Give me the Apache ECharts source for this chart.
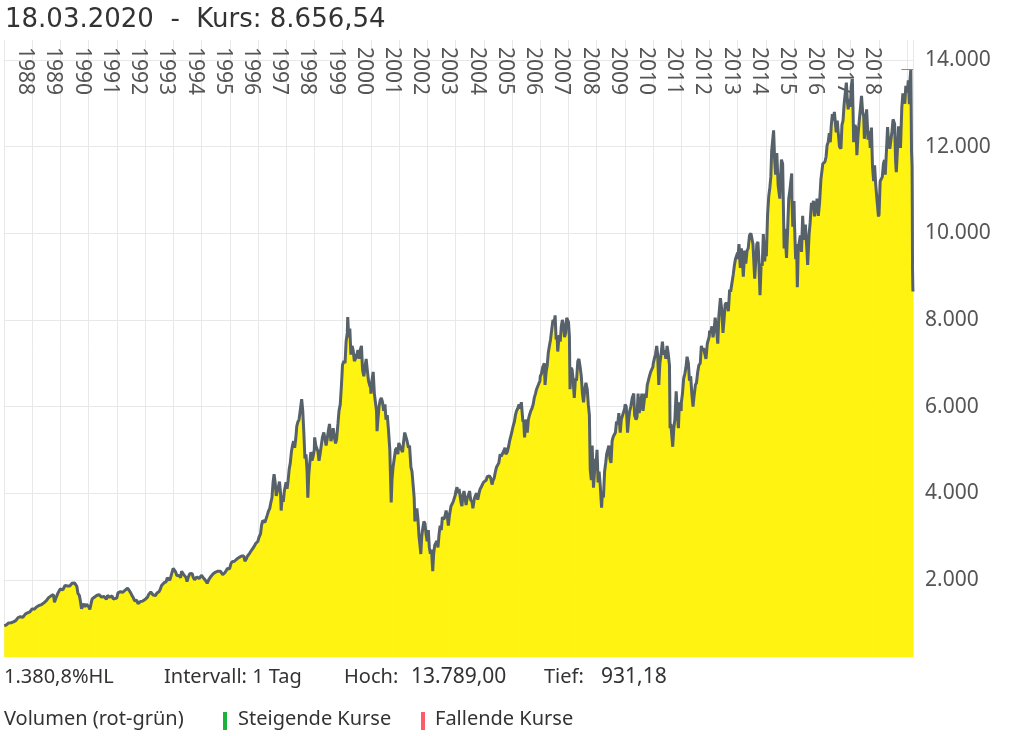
<!DOCTYPE html>
<html>
<head>
<meta charset="utf-8">
<script src="https://cdn.jsdelivr.net/npm/echarts@6/dist/echarts.min.js"></script>
<style>
html,body{margin:0;padding:0;background:#fff;}
#chart{width:1024px;height:736px;}
</style>
</head>
<body>
<div id="chart"></div>
<script>
// ---- data (DAX) ----
const TITLE_DATE = '18.03.2020';
const KURS = 8656.54;
const HIGH = 13789.00;
const LOW = 931.18;
const START_DATE = '1988-01-01';
const END_DATE = '2020-03-18';
const yearLabels = [1988,1989,1990,1991,1992,1993,1994,1995,1996,1997,1998,1999,2000,2001,2002,2003,2004,2005,2006,2007,2008,2009,2010,2011,2012,2013,2014,2015,2016,2017,2018];
const yTicks = [2000,4000,6000,8000,10000,12000,14000];
const kurs = [
['1988-01-04',940],['1988-01-19',931],['1988-02-01',960],['1988-02-15',985],['1988-03-01',1005],['1988-03-15',990],['1988-04-01',1010],['1988-04-15',1040],['1988-05-02',1030],['1988-05-16',1045],['1988-06-01',1060],['1988-06-15',1100],['1988-07-01',1130],['1988-07-15',1150],['1988-08-01',1150],['1988-08-15',1120],['1988-09-01',1135],['1988-09-15',1180],['1988-10-03',1210],['1988-10-17',1250],['1988-11-01',1240],['1988-11-15',1220],['1988-12-01',1260],['1988-12-30',1328],
['1989-01-16',1360],['1989-02-01',1330],['1989-02-15',1360],['1989-03-01',1380],['1989-03-15',1400],['1989-04-03',1410],['1989-04-17',1440],['1989-05-02',1430],['1989-05-16',1460],['1989-06-01',1470],['1989-06-15',1500],['1989-07-03',1520],['1989-07-17',1560],['1989-08-01',1590],['1989-08-15',1610],['1989-09-01',1630],['1989-09-15',1640],['1989-10-02',1660],['1989-10-16',1480],['1989-11-01',1570],['1989-11-15',1600],['1989-12-01',1700],['1989-12-15',1740],['1989-12-29',1790],
['1990-01-02',1800],['1990-01-15',1820],['1990-02-01',1770],['1990-02-15',1740],['1990-03-01',1870],['1990-03-15',1900],['1990-04-02',1860],['1990-04-17',1830],['1990-05-02',1860],['1990-05-15',1900],['1990-06-01',1920],['1990-06-15',1910],['1990-07-02',1930],['1990-07-20',1966],['1990-08-01',1850],['1990-08-15',1690],['1990-09-03',1640],['1990-09-17',1500],['1990-10-01',1335],['1990-10-15',1400],['1990-11-01',1450],['1990-11-15',1380],['1990-12-03',1440],['1990-12-28',1398],
['1991-01-02',1380],['1991-01-16',1320],['1991-02-01',1450],['1991-02-15',1560],['1991-03-01',1570],['1991-03-15',1600],['1991-04-02',1620],['1991-04-15',1640],['1991-05-02',1640],['1991-05-15',1660],['1991-06-03',1620],['1991-06-17',1600],['1991-07-01',1580],['1991-07-15',1620],['1991-08-01',1650],['1991-08-19',1550],['1991-09-02',1640],['1991-09-16',1610],['1991-10-01',1600],['1991-10-15',1620],['1991-11-01',1630],['1991-11-15',1560],['1991-12-02',1560],['1991-12-30',1578],
['1992-01-02',1600],['1992-01-15',1700],['1992-02-03',1710],['1992-02-17',1730],['1992-03-02',1720],['1992-03-16',1710],['1992-04-01',1720],['1992-04-15',1760],['1992-05-04',1790],['1992-05-18',1810],['1992-06-01',1790],['1992-06-15',1740],['1992-07-01',1690],['1992-07-15',1640],['1992-08-03',1580],['1992-08-17',1520],['1992-09-01',1510],['1992-09-15',1530],['1992-10-01',1450],['1992-10-15',1420],['1992-11-02',1500],['1992-11-16',1470],['1992-12-01',1510],['1992-12-30',1545],
['1993-01-04',1540],['1993-01-18',1580],['1993-02-01',1600],['1993-02-15',1660],['1993-03-01',1680],['1993-03-15',1720],['1993-04-01',1680],['1993-04-15',1650],['1993-05-03',1660],['1993-05-17',1640],['1993-06-01',1690],['1993-06-15',1680],['1993-07-01',1730],['1993-07-15',1780],['1993-08-02',1870],['1993-08-16',1880],['1993-09-01',1930],['1993-09-15',1920],['1993-10-01',1960],['1993-10-15',2050],['1993-11-01',2070],['1993-11-15',1990],['1993-12-01',2080],['1993-12-30',2267],
['1994-01-03',2250],['1994-01-17',2270],['1994-02-01',2180],['1994-02-15',2100],['1994-03-01',2110],['1994-03-15',2100],['1994-04-05',2050],['1994-04-18',2200],['1994-05-02',2180],['1994-05-16',2120],['1994-06-01',2090],['1994-06-15',2050],['1994-06-27',1960],['1994-07-15',2070],['1994-08-01',2140],['1994-08-15',2170],['1994-09-01',2150],['1994-09-15',2060],['1994-10-03',2000],['1994-10-17',2040],['1994-11-01',2070],['1994-11-15',2080],['1994-12-01',2030],['1994-12-30',2107],
['1995-01-02',2100],['1995-01-16',2080],['1995-02-01',2030],['1995-02-15',2040],['1995-03-01',1970],['1995-03-15',1920],['1995-04-03',2000],['1995-04-18',2030],['1995-05-02',2080],['1995-05-15',2110],['1995-06-01',2140],['1995-06-15',2150],['1995-07-03',2180],['1995-07-17',2220],['1995-08-01',2200],['1995-08-15',2160],['1995-09-01',2200],['1995-09-15',2190],['1995-10-02',2120],['1995-10-16',2140],['1995-11-01',2170],['1995-11-15',2210],['1995-12-01',2260],['1995-12-29',2254],
['1996-01-02',2280],['1996-01-15',2370],['1996-02-01',2420],['1996-02-15',2440],['1996-03-01',2430],['1996-03-15',2470],['1996-04-01',2480],['1996-04-15',2500],['1996-05-02',2520],['1996-05-15',2560],['1996-06-03',2550],['1996-06-17',2570],['1996-07-01',2550],['1996-07-15',2430],['1996-08-01',2480],['1996-08-15',2540],['1996-09-02',2570],['1996-09-16',2620],['1996-10-01',2650],['1996-10-15',2700],['1996-11-01',2720],['1996-11-15',2780],['1996-12-02',2840],['1996-12-30',2889],
['1997-01-02',2900],['1997-01-15',2990],['1997-02-03',3060],['1997-02-17',3270],['1997-03-03',3370],['1997-03-17',3380],['1997-04-01',3330],['1997-04-15',3300],['1997-05-02',3500],['1997-05-15',3580],['1997-06-02',3650],['1997-06-16',3780],['1997-07-01',3900],['1997-07-15',4250],['1997-07-28',4438],['1997-08-11',4250],['1997-08-25',3940],['1997-09-08',4050],['1997-09-22',4150],['1997-10-06',4270],['1997-10-20',4000],['1997-10-28',3600],['1997-11-10',3950],['1997-11-24',3800],['1997-12-08',4050],['1997-12-30',4250],
['1998-01-12',4100],['1998-01-26',4300],['1998-02-09',4560],['1998-02-23',4700],['1998-03-09',4950],['1998-03-23',5100],['1998-04-06',5200],['1998-04-20',5050],['1998-05-04',5250],['1998-05-18',5550],['1998-06-02',5650],['1998-06-16',5700],['1998-07-01',5900],['1998-07-20',6171],['1998-08-03',5900],['1998-08-17',5400],['1998-08-31',4800],['1998-09-14',4900],['1998-09-28',4500],['1998-10-08',3896],['1998-10-19',4400],['1998-11-02',4700],['1998-11-16',4950],['1998-12-01',4750],['1998-12-15',4850],['1998-12-30',5002],
['1999-01-04',5290],['1999-01-18',5100],['1999-02-01',5100],['1999-02-15',4970],['1999-03-01',4750],['1999-03-15',4900],['1999-04-01',4900],['1999-04-15',5300],['1999-05-03',5400],['1999-05-17',5250],['1999-06-01',5100],['1999-06-15',5250],['1999-07-01',5450],['1999-07-15',5600],['1999-08-02',5200],['1999-08-16',5300],['1999-09-01',5500],['1999-09-15',5300],['1999-10-01',5150],['1999-10-15',5250],['1999-11-01',5600],['1999-11-15',5900],['1999-12-01',6050],['1999-12-15',6450],['1999-12-30',6958],
['2000-01-03',7000],['2000-01-17',7050],['2000-02-01',7000],['2000-02-15',7500],['2000-03-01',7700],['2000-03-07',8065],['2000-03-20',7600],['2000-04-03',7800],['2000-04-17',7200],['2000-05-02',7400],['2000-05-16',7300],['2000-06-01',7050],['2000-06-15',7100],['2000-07-03',7200],['2000-07-17',7300],['2000-08-01',7100],['2000-08-15',7300],['2000-09-01',7400],['2000-09-15',6850],['2000-10-02',6700],['2000-10-16',6900],['2000-11-01',7100],['2000-11-15',6850],['2000-12-01',6600],['2000-12-15',6500],['2000-12-29',6434],
['2001-01-02',6300],['2001-01-15',6600],['2001-01-31',6800],['2001-02-15',6300],['2001-03-01',6100],['2001-03-15',5900],['2001-03-22',5430],['2001-04-02',5700],['2001-04-17',6000],['2001-05-02',6150],['2001-05-16',6200],['2001-06-01',6100],['2001-06-15',5900],['2001-07-02',6050],['2001-07-16',5700],['2001-08-01',5800],['2001-08-15',5500],['2001-09-03',5000],['2001-09-21',3787],['2001-10-01',4300],['2001-10-15',4600],['2001-11-01',4600],['2001-11-15',5000],['2001-12-03',5050],['2001-12-17',4900],['2001-12-28',5160],
['2002-01-02',5200],['2002-01-15',5150],['2002-02-01',5000],['2002-02-15',4950],['2002-03-01',5200],['2002-03-15',5400],['2002-03-28',5400],['2002-04-15',5200],['2002-05-02',5050],['2002-05-16',5100],['2002-06-03',4600],['2002-06-17',4500],['2002-07-01',4200],['2002-07-15',3900],['2002-07-24',3350],['2002-08-05',3500],['2002-08-19',3650],['2002-09-02',3400],['2002-09-16',3000],['2002-09-30',2770],['2002-10-09',2597],['2002-10-21',3000],['2002-11-04',3200],['2002-11-18',3350],['2002-12-02',3300],['2002-12-16',3050],['2002-12-30',2893],
['2003-01-02',2950],['2003-01-14',3150],['2003-01-27',2750],['2003-02-10',2600],['2003-02-24',2700],['2003-03-12',2203],['2003-03-24',2600],['2003-04-07',2800],['2003-04-22',2800],['2003-05-05',2900],['2003-05-19',2750],['2003-06-02',3050],['2003-06-16',3250],['2003-07-01',3150],['2003-07-15',3450],['2003-08-01',3400],['2003-08-15',3450],['2003-09-01',3600],['2003-09-15',3500],['2003-09-30',3250],['2003-10-15',3500],['2003-11-03',3700],['2003-11-17',3700],['2003-12-01',3800],['2003-12-30',3965],
['2004-01-02',4020],['2004-01-20',4140],['2004-02-02',4000],['2004-02-16',4100],['2004-03-01',4100],['2004-03-11',3800],['2004-03-24',3700],['2004-04-05',3950],['2004-04-20',4050],['2004-05-03',3900],['2004-05-17',3730],['2004-06-01',3900],['2004-06-15',3950],['2004-07-01',4050],['2004-07-15',3850],['2004-08-02',3800],['2004-08-13',3650],['2004-09-01',3880],['2004-09-15',3950],['2004-10-01',4000],['2004-10-15',3850],['2004-11-01',4000],['2004-11-15',4100],['2004-12-01',4150],['2004-12-30',4256],
['2005-01-03',4290],['2005-01-17',4250],['2005-02-01',4300],['2005-02-15',4380],['2005-03-01',4380],['2005-03-15',4400],['2005-04-01',4350],['2005-04-18',4200],['2005-05-02',4300],['2005-05-16',4350],['2005-06-01',4500],['2005-06-15',4600],['2005-07-01',4600],['2005-07-15',4700],['2005-08-01',4900],['2005-08-15',4850],['2005-09-01',4820],['2005-09-15',4970],['2005-10-03',5050],['2005-10-14',4900],['2005-11-01',4950],['2005-11-15',5050],['2005-12-01',5200],['2005-12-30',5408],
['2006-01-02',5450],['2006-01-16',5550],['2006-02-01',5650],['2006-02-15',5800],['2006-03-01',5900],['2006-03-15',5950],['2006-04-03',6050],['2006-04-18',5950],['2006-05-02',6100],['2006-05-09',6140],['2006-05-22',5650],['2006-06-01',5700],['2006-06-13',5290],['2006-06-26',5600],['2006-07-10',5700],['2006-07-18',5400],['2006-08-01',5700],['2006-08-15',5800],['2006-09-01',5900],['2006-09-15',5950],['2006-10-02',6050],['2006-10-16',6200],['2006-11-01',6300],['2006-11-15',6400],['2006-12-01',6400],['2006-12-29',6597],
['2007-01-02',6700],['2007-01-16',6750],['2007-02-01',6900],['2007-02-23',7000],['2007-03-05',6500],['2007-03-19',6800],['2007-04-02',6950],['2007-04-16',7250],['2007-04-30',7400],['2007-05-15',7550],['2007-06-01',7800],['2007-06-15',8000],['2007-07-02',7950],['2007-07-13',8105],['2007-07-26',7550],['2007-08-08',7600],['2007-08-16',7270],['2007-09-03',7650],['2007-09-17',7500],['2007-10-01',7850],['2007-10-15',8000],['2007-11-01',7850],['2007-11-12',7600],['2007-11-26',7700],['2007-12-10',8050],['2007-12-28',8067],
['2008-01-02',7950],['2008-01-14',7600],['2008-01-22',6400],['2008-02-04',6900],['2008-02-18',6850],['2008-03-03',6600],['2008-03-17',6200],['2008-04-01',6650],['2008-04-15',6600],['2008-05-02',7050],['2008-05-16',7100],['2008-06-02',6900],['2008-06-16',6700],['2008-07-01',6300],['2008-07-15',6100],['2008-08-01',6400],['2008-08-15',6550],['2008-09-01',6400],['2008-09-15',6050],['2008-09-29',5800],['2008-10-10',4550],['2008-10-24',4300],['2008-11-04',5100],['2008-11-21',4127],['2008-12-01',4400],['2008-12-15',4750],['2008-12-30',4810],
['2009-01-06',5000],['2009-01-20',4250],['2009-02-02',4500],['2009-02-16',4200],['2009-03-06',3666],['2009-03-16',4000],['2009-03-30',3900],['2009-04-14',4500],['2009-04-28',4700],['2009-05-11',4900],['2009-05-25',4900],['2009-06-08',5100],['2009-06-22',4800],['2009-07-06',4700],['2009-07-20',5200],['2009-08-03',5300],['2009-08-17',5350],['2009-09-01',5400],['2009-09-15',5650],['2009-10-01',5600],['2009-10-15',5850],['2009-11-02',5400],['2009-11-16',5700],['2009-12-01',5700],['2009-12-30',5957],
['2010-01-04',6050],['2010-01-19',6000],['2010-02-05',5400],['2010-02-19',5700],['2010-03-05',5900],['2010-03-19',6000],['2010-04-06',6200],['2010-04-26',6300],['2010-05-07',5800],['2010-05-25',5700],['2010-06-07',5750],['2010-06-21',6300],['2010-07-05',5850],['2010-07-19',6000],['2010-08-09',6300],['2010-08-24',5900],['2010-09-06',6100],['2010-09-20',6300],['2010-10-04',6200],['2010-10-18',6500],['2010-11-01',6600],['2010-11-15',6700],['2010-12-01',6800],['2010-12-30',6914],
['2011-01-03',6990],['2011-01-17',7100],['2011-02-01',7200],['2011-02-17',7400],['2011-03-01',7200],['2011-03-16',6500],['2011-03-30',7000],['2011-04-14',7200],['2011-05-02',7500],['2011-05-16',7200],['2011-05-31',7300],['2011-06-15',7100],['2011-07-01',7400],['2011-07-14',7250],['2011-08-01',6950],['2011-08-09',5500],['2011-08-19',5600],['2011-09-01',5600],['2011-09-12',5072],['2011-09-26',5500],['2011-10-10',5700],['2011-10-27',6350],['2011-11-09',5900],['2011-11-25',5500],['2011-12-07',6100],['2011-12-30',5898],
['2012-01-02',6100],['2012-01-16',6300],['2012-02-01',6650],['2012-02-15',6750],['2012-03-01',6900],['2012-03-16',7150],['2012-04-02',7000],['2012-04-16',6600],['2012-05-02',6700],['2012-05-16',6300],['2012-06-01',6000],['2012-06-15',6250],['2012-07-02',6500],['2012-07-16',6550],['2012-08-01',6800],['2012-08-15',6950],['2012-09-03',7000],['2012-09-17',7400],['2012-10-01',7300],['2012-10-15',7350],['2012-11-01',7350],['2012-11-16',7100],['2012-12-03',7450],['2012-12-28',7612],
['2013-01-02',7750],['2013-01-16',7700],['2013-02-01',7850],['2013-02-15',7600],['2013-03-01',7750],['2013-03-15',8050],['2013-04-02',7800],['2013-04-18',7450],['2013-05-02',8100],['2013-05-22',8500],['2013-06-07',8250],['2013-06-24',7700],['2013-07-08',8000],['2013-07-22',8350],['2013-08-05',8400],['2013-08-19',8350],['2013-09-02',8200],['2013-09-18',8700],['2013-10-01',8650],['2013-10-18',8850],['2013-11-04',9050],['2013-11-18',9250],['2013-12-02',9400],['2013-12-30',9552],
['2014-01-02',9400],['2014-01-17',9750],['2014-02-03',9200],['2014-02-17',9650],['2014-03-03',9350],['2014-03-14',9000],['2014-04-01',9600],['2014-04-15',9300],['2014-05-02',9600],['2014-05-16',9650],['2014-06-02',9950],['2014-06-20',10000],['2014-07-03',10030],['2014-07-17',9750],['2014-08-08',8950],['2014-08-22',9350],['2014-09-05',9750],['2014-09-19',9800],['2014-10-01',9400],['2014-10-16',8572],['2014-10-31',9300],['2014-11-14',9250],['2014-11-28',9980],['2014-12-16',9350],['2014-12-30',9806],
['2015-01-06',9470],['2015-01-22',10430],['2015-02-06',10850],['2015-02-20',11050],['2015-03-05',11300],['2015-03-16',11900],['2015-04-10',12375],['2015-04-23',11700],['2015-05-06',11350],['2015-05-21',11850],['2015-06-08',11100],['2015-06-29',10800],['2015-07-10',11300],['2015-07-20',11700],['2015-08-05',11600],['2015-08-24',9650],['2015-09-03',10100],['2015-09-24',9430],['2015-10-09',10100],['2015-10-23',10800],['2015-11-06',10990],['2015-11-30',11380],['2015-12-03',10800],['2015-12-14',10150],['2015-12-30',10743],
['2016-01-04',10280],['2016-01-20',9400],['2016-02-01',9750],['2016-02-11',8752],['2016-02-22',9570],['2016-03-07',9800],['2016-03-21',9950],['2016-04-05',9570],['2016-04-20',10400],['2016-05-04',9850],['2016-05-25',10200],['2016-06-08',10200],['2016-06-16',9550],['2016-06-24',9270],['2016-07-12',9960],['2016-07-26',10250],['2016-08-12',10700],['2016-08-26',10590],['2016-09-07',10750],['2016-09-20',10390],['2016-10-10',10620],['2016-10-24',10800],['2016-11-09',10400],['2016-11-25',10700],['2016-12-13',11250],['2016-12-29',11481],
['2017-01-06',11600],['2017-01-20',11630],['2017-02-03',11650],['2017-02-17',11760],['2017-03-03',12030],['2017-03-17',12100],['2017-03-31',12310],['2017-04-13',12100],['2017-04-25',12470],['2017-05-10',12750],['2017-05-22',12600],['2017-06-05',12800],['2017-06-20',12800],['2017-06-29',12330],['2017-07-12',12600],['2017-07-26',12300],['2017-08-10',12000],['2017-08-29',11950],['2017-09-11',12500],['2017-09-25',12600],['2017-10-09',12980],['2017-10-23',13000],['2017-11-07',13478],['2017-11-20',13050],['2017-12-01',12860],['2017-12-15',13100],['2017-12-29',12918],
['2018-01-08',13370],['2018-01-23',13559],['2018-02-02',12780],['2018-02-09',12100],['2018-02-26',12500],['2018-03-12',12420],['2018-03-23',11800],['2018-04-06',12240],['2018-04-20',12540],['2018-05-04',12820],['2018-05-22',13170],['2018-06-05',12800],['2018-06-19',12700],['2018-06-28',12180],['2018-07-13',12540],['2018-07-27',12860],['2018-08-15',12160],['2018-08-31',12360],['2018-09-12',11970],['2018-09-27',12440],['2018-10-11',11540],['2018-10-26',11200],['2018-11-07',11570],['2018-11-21',11140],['2018-12-07',10790],['2018-12-27',10381],['2018-12-28',10559],
['2019-01-03',10400],['2019-01-18',11200],['2019-02-01',11180],['2019-02-15',11300],['2019-03-01',11600],['2019-03-15',11690],['2019-03-25',11350],['2019-04-12',12000],['2019-04-24',12450],['2019-05-07',12100],['2019-05-23',11950],['2019-06-03',11950],['2019-06-20',12350],['2019-07-04',12630],['2019-07-24',12520],['2019-08-06',11660],['2019-08-15',11410],['2019-08-30',11940],['2019-09-13',12470],['2019-09-30',12430],['2019-10-08',11970],['2019-10-25',12900],['2019-11-08',13230],['2019-11-20',13150],['2019-12-03',12990],['2019-12-16',13400],['2019-12-30',13249],
['2020-01-08',13320],['2020-01-17',13530],['2020-01-31',12980],['2020-02-07',13500],['2020-02-19',13789],['2020-02-28',11890],['2020-03-06',11540],['2020-03-09',10625],['2020-03-12',9160],['2020-03-16',8742],['2020-03-18',8656.54]
];

// ---- helpers ----
function toYear(s){
  const p = s.split('-').map(Number);
  const t = Date.UTC(p[0], p[1]-1, p[2]);
  const a = Date.UTC(p[0], 0, 1), b = Date.UTC(p[0]+1, 0, 1);
  return p[0] + (t - a) / (b - a);
}
function de(v, dec){
  const s = v.toFixed(dec || 0).split('.');
  const i = s[0].replace(/\B(?=(\d{3})+(?!\d))/g, '.');
  return s.length > 1 ? i + ',' + s[1] : i;
}
const xMin = toYear(START_DATE);
const xMax = toYear(END_DATE);
const seriesData = kurs.map(d => [toYear(d[0]), d[1]]);
const hlPct = (HIGH / LOW - 1) * 100;

const FONT = '"Noto Sans", "Open Sans", sans-serif';
const TFONT = '"DejaVu Sans", "Noto Sans", sans-serif';
const chart = echarts.init(document.getElementById('chart'), null, {renderer: 'canvas'});
chart.setOption({
  animation: false,
  backgroundColor: '#ffffff',
  grid: {left: 4, right: 111, top: 40, bottom: 79, containLabel: false},
  xAxis: [
    {
      type: 'value', position: 'bottom', min: xMin, max: xMax, interval: 1,
      axisLine: {show: false}, axisTick: {show: false}, axisLabel: {show: false},
      splitLine: {show: true, lineStyle: {color: '#e8e8e8', width: 1}}
    },
    {
      type: 'value', position: 'top', min: xMin, max: xMax,
      axisLine: {show: false}, axisTick: {show: false},
      splitLine: {show: false},
      axisLabel: {
        show: true, inside: true, rotate: 90, margin: 7,
        customValues: yearLabels.map(y => y + 0.75),
        formatter: v => String(Math.floor(v)),
        color: '#555', fontSize: 21, fontFamily: FONT
      }
    }
  ],
  yAxis: {
    type: 'value', position: 'right', min: 220, max: 14460,
    axisLine: {show: false},
    axisTick: {show: false, customValues: yTicks},
    axisLabel: {
      show: true, margin: 12, customValues: yTicks,
      formatter: v => de(v), color: '#555', fontSize: 21, fontFamily: FONT
    },
    splitLine: {show: true, lineStyle: {color: '#e8e8e8', width: 1}}
  },
  series: [{
    type: 'line', xAxisIndex: 0, yAxisIndex: 0,
    data: seriesData, showSymbol: false, symbol: 'none',
    lineStyle: {color: '#56616a', width: 3},
    areaStyle: {color: '#fff200', opacity: 0.93, origin: 'start'},
    z: 2,
    markLine: {
      silent: true, symbol: 'none', label: {show: false},
      lineStyle: {color: '#888', width: 1, type: 'solid'},
      data: [[{coord: [toYear('2019-10-20'), HIGH]}, {coord: [xMax, HIGH]}]]
    }
  }],
  graphic: [
    {type: 'text', left: 5, top: 7, style: {text: TITLE_DATE + '  -  Kurs: ' + de(KURS, 2), font: '26px ' + TFONT, fill: '#333'}},
    {type: 'text', left: 4, top: 667, style: {text: de(hlPct, 1) + '%HL', font: '20px ' + FONT, fill: '#333'}},
    {type: 'text', left: 164, top: 667, style: {text: 'Intervall: 1 Tag', font: '20px ' + FONT, fill: '#333'}},
    {type: 'text', left: 344, top: 667, style: {text: 'Hoch:', font: '20px ' + FONT, fill: '#333'}},
    {type: 'text', left: 411, top: 667, style: {text: de(HIGH, 2), font: '21px ' + FONT, fill: '#333'}},
    {type: 'text', left: 544, top: 667, style: {text: 'Tief:', font: '20px ' + FONT, fill: '#333'}},
    {type: 'text', left: 601, top: 667, style: {text: de(LOW, 2), font: '21px ' + FONT, fill: '#333'}},
    {type: 'text', left: 4, top: 709, style: {text: 'Volumen (rot-grün)', font: '20px ' + FONT, fill: '#333'}},
    {type: 'rect', left: 223, top: 712, shape: {width: 4, height: 18}, style: {fill: '#1db33a'}},
    {type: 'text', left: 238, top: 709, style: {text: 'Steigende Kurse', font: '20px ' + FONT, fill: '#333'}},
    {type: 'rect', left: 421, top: 712, shape: {width: 4, height: 18}, style: {fill: '#ff5a6a'}},
    {type: 'text', left: 435, top: 709, style: {text: 'Fallende Kurse', font: '20px ' + FONT, fill: '#333'}}
  ]
});
</script>
</body>
</html>
